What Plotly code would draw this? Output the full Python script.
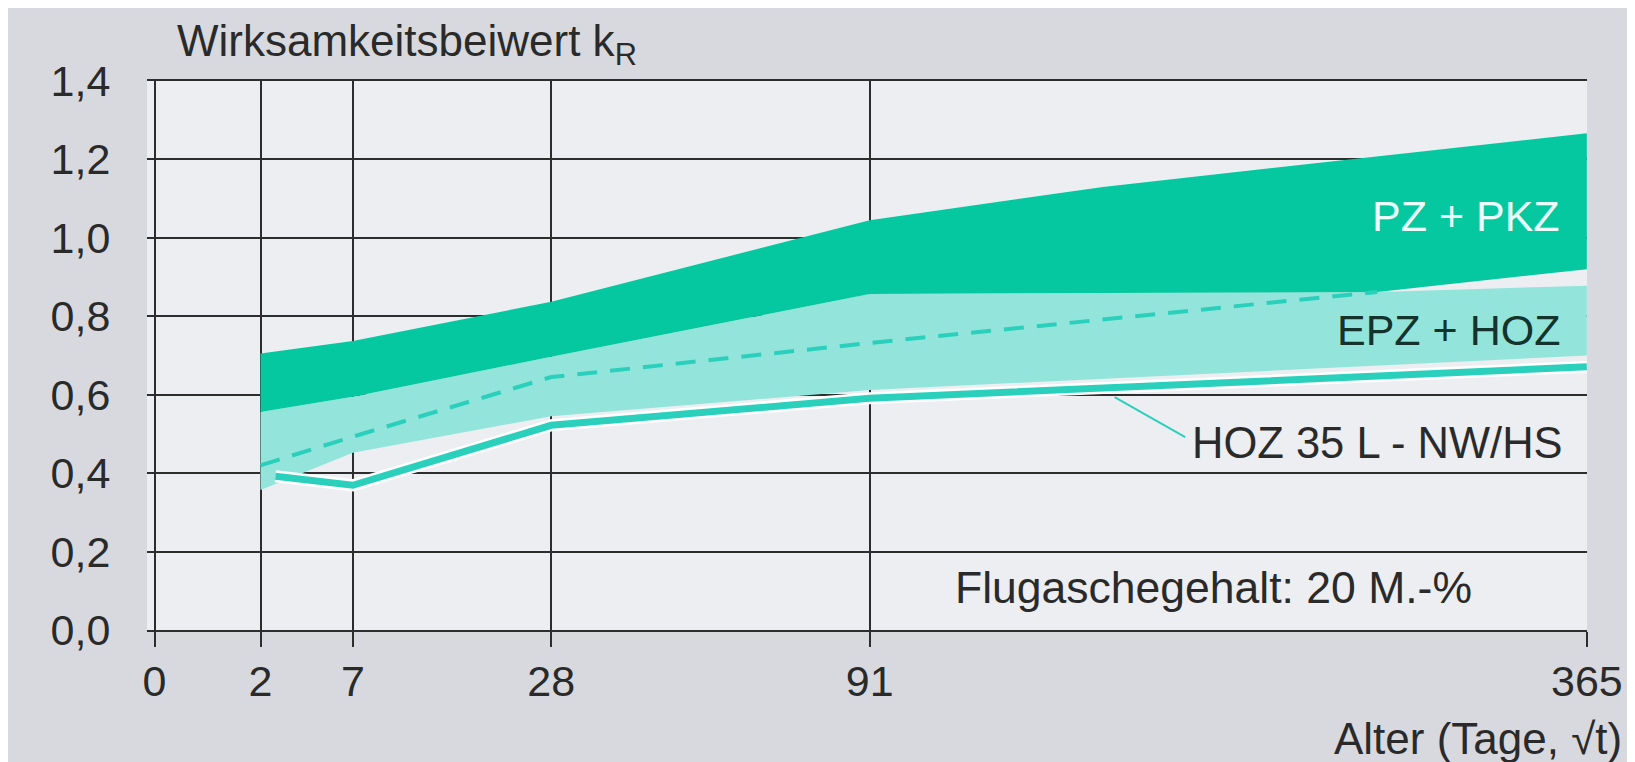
import numpy as np
import plotly.graph_objects as go

# ---- data (age in days, plotted on a sqrt(t) axis) ----
tick_days = [0, 2, 7, 28, 91, 365]
tick_labels = ["0", "2", "7", "28", "91", "365"]
y_ticks = [0.0, 0.2, 0.4, 0.6, 0.8, 1.0, 1.2, 1.4]

pz_top_days = [2, 7, 28, 91, 160, 365]
pz_top_vals = [0.705, 0.737, 0.837, 1.045, 1.130, 1.267]
pz_bot_days = [2, 7, 28, 91, 266, 365]
pz_bot_vals = [0.556, 0.595, 0.697, 0.857, 0.862, 0.920]

epz_top_days = [2, 7, 28, 91, 266, 365]
epz_top_vals = [0.556, 0.595, 0.697, 0.857, 0.862, 0.878]
epz_bot_days = [2, 7, 28, 91, 365]
epz_bot_vals = [0.357, 0.452, 0.545, 0.612, 0.700]

epz_mid_days = [2, 7, 28, 91, 266]
epz_mid_vals = [0.420, 0.493, 0.645, 0.732, 0.862]

hoz_days = [2.6, 7, 28, 91, 365]
hoz_vals = [0.392, 0.369, 0.522, 0.591, 0.671]

leader_days = [164, 189]
leader_vals = [0.594, 0.492]

DARK = "#06c8a0"
LIGHT = "#93e5dc"
LINE = "#2bd0bc"
TXT = "#2a2a2a"
REG = "Liberation Sans, Arial, sans-serif"

sq = lambda d: list(np.sqrt(np.asarray(d, dtype=float)))

fig = go.Figure()

# EPZ + HOZ band
fig.add_trace(go.Scatter(
    x=sq(epz_top_days) + sq(epz_bot_days)[::-1],
    y=epz_top_vals + epz_bot_vals[::-1],
    fill="toself", fillcolor=LIGHT, line=dict(width=0), mode="lines",
    hoverinfo="skip", showlegend=False))

# PZ + PKZ band
fig.add_trace(go.Scatter(
    x=sq(pz_top_days) + sq(pz_bot_days)[::-1],
    y=pz_top_vals + pz_bot_vals[::-1],
    fill="toself", fillcolor=DARK, line=dict(width=0), mode="lines",
    hoverinfo="skip", showlegend=False))

# dashed mean line of EPZ + HOZ
fig.add_trace(go.Scatter(
    x=sq(epz_mid_days), y=epz_mid_vals, mode="lines",
    line=dict(color=LINE, width=4, dash="20px,13px"),
    hoverinfo="skip", showlegend=False))

# HOZ 35 L - NW/HS line with white halo
fig.add_trace(go.Scatter(
    x=sq(hoz_days), y=hoz_vals, mode="lines",
    line=dict(color="white", width=12),
    hoverinfo="skip", showlegend=False))
fig.add_trace(go.Scatter(
    x=sq(hoz_days), y=hoz_vals, mode="lines",
    line=dict(color=LINE, width=7),
    hoverinfo="skip", showlegend=False))

# leader line to label
fig.add_trace(go.Scatter(
    x=sq(leader_days), y=leader_vals, mode="lines",
    line=dict(color=LINE, width=2),
    hoverinfo="skip", showlegend=False))

# page body has an 8px margin -> figure is 8px smaller, margins shifted by 8
fig.update_layout(
    width=1627, height=754,
    margin=dict(l=139, r=42, t=73, b=132),
    paper_bgcolor="#d8d9de",
    plot_bgcolor="#eceef2",
    separators=",.",
    showlegend=False,
    xaxis=dict(
        range=[-0.1, float(np.sqrt(365)) + 0.002],
        tickmode="array",
        tickvals=sq(tick_days),
        ticktext=tick_labels,
        showgrid=True, gridcolor="#2d2d2d", gridwidth=2,
        showline=True, mirror=True, linecolor="#2d2d2d", linewidth=2,
        ticks="outside", ticklen=15, tickwidth=2, tickcolor="#2d2d2d",
        ticklabelstandoff=-3,
        ticklabeloverflow="allow",
        tickfont=dict(family=REG, size=43, color=TXT),
        zeroline=False,
    ),
    yaxis=dict(
        range=[0, 1.4],
        tickmode="array",
        tickvals=y_ticks,
        tickformat=".1f",
        showgrid=True, gridcolor="#2d2d2d", gridwidth=2,
        showline=False,
        ticks="outside", ticklen=27, tickcolor="rgba(0,0,0,0)",
        tickfont=dict(family=REG, size=43, color=TXT),
        zeroline=False,
    ),
)

ann = [
    dict(text="Wirksamkeitsbeiwert k<sub>R</sub>", xref="paper", yref="paper",
         x=0.0194, y=1.068, xanchor="left", yanchor="middle", showarrow=False,
         font=dict(family=REG, size=44, color=TXT)),
    dict(text="Alter (Tage, √t)",
         xref="paper", yref="paper",
         x=1.0256, y=-0.198, xanchor="right", yanchor="middle", showarrow=False,
         font=dict(family=REG, size=44, color=TXT)),
    dict(text="PZ + PKZ", x=18.77, y=1.056, xanchor="right", yanchor="middle",
         showarrow=False, font=dict(family=REG, size=43, color="#eafff9")),
    dict(text="EPZ + HOZ", x=18.78, y=0.764, xanchor="right", yanchor="middle",
         showarrow=False, font=dict(family=REG, size=43, color="#14332d")),
    dict(text="HOZ 35 L - NW/HS", x=18.81, y=0.477, xanchor="right", yanchor="middle",
         showarrow=False, font=dict(family=REG, size=43.5, color=TXT)),
    dict(text="Flugaschegehalt: 20 M.-%", x=10.65, y=0.108, xanchor="left", yanchor="middle",
         showarrow=False, font=dict(family=REG, size=44.5, color=TXT)),
]
fig.update_layout(annotations=ann)

fig.write_html("out.html")
